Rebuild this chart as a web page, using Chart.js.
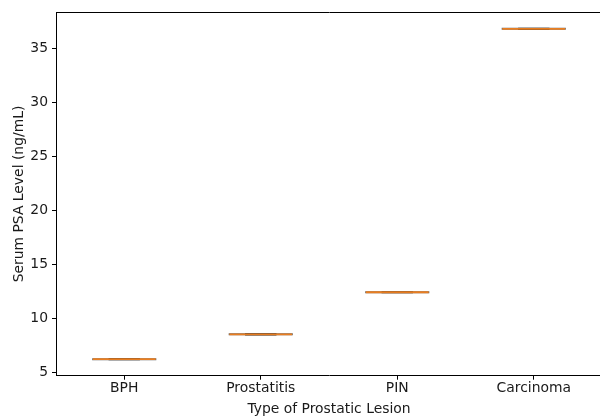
<!DOCTYPE html>
<html>
<head>
<meta charset="utf-8">
<script src="https://cdn.jsdelivr.net/npm/chart.js@4/dist/chart.umd.min.js"></script>
<style>
  html, body { margin: 0; padding: 0; background: #fff; overflow: hidden; }
  #wrap { width: 610px; height: 416px; }
</style>
</head>
<body>
<div id="wrap"><canvas id="c" width="610" height="416"></canvas></div>
<script>
// ---- data ----
const categories = ["BPH", "Prostatitis", "PIN", "Carcinoma"];
const psaValues = [6.2, 8.5, 12.4, 36.8];
const yTicks = [5, 10, 15, 20, 25, 30, 35];
const xAxisTitle = "Type of Prostatic Lesion";
const yAxisTitle = "Serum PSA Level (ng/mL)";

// ---- build box-plot style segments from the data ----
const boxHalf = 0.23;
const capHalf = 0.115;
function segments(half) {
  const pts = [];
  psaValues.forEach((v, i) => {
    const pos = i + 1;
    pts.push({ x: pos - half, y: v });
    pts.push({ x: pos + half, y: v });
    pts.push({ x: pos, y: null });
  });
  return pts;
}

const FONT = "'DejaVu Sans', sans-serif";
const TXT = '#1a1a1a';

new Chart(document.getElementById('c'), {
  type: 'scatter',
  data: {
    datasets: [
      { label: 'median', data: segments(boxHalf), showLine: true, spanGaps: false,
        borderColor: 'rgba(240,128,30,0.95)', borderWidth: 1.8, pointRadius: 0, order: 0 },
      { label: 'caps', data: segments(capHalf), showLine: true, spanGaps: false,
        borderColor: '#333', borderWidth: 2.2, pointRadius: 0, order: 1 },
      { label: 'box', data: segments(boxHalf + 0.005), showLine: true, spanGaps: false,
        borderColor: '#666', borderWidth: 2, pointRadius: 0, order: 2 }
    ]
  },
  options: {
    responsive: false,
    animation: false,
    events: [],
    layout: { padding: { left: 0, right: 8, top: 12, bottom: 0 } },
    plugins: { legend: { display: false }, tooltip: { enabled: false } },
    scales: {
      x: {
        type: 'linear',
        position: 'bottom',
        min: 0.5,
        max: 4.5,
        afterBuildTicks: (s) => { s.ticks = categories.map((c, i) => ({ value: i + 1 })); },
        afterFit: (s) => { s.height = 40.3; },
        ticks: {
          callback: (v) => categories[Math.round(v) - 1] || '',
          color: TXT, font: { family: FONT, size: 13.9 }, padding: 0, maxRotation: 0, autoSkip: false
        },
        grid: { display: true, drawOnChartArea: false, tickLength: 4, color: '#000', tickWidth: 1 },
        border: { display: true, color: '#000', width: 1 },
        title: { display: true, text: xAxisTitle, color: TXT, font: { family: FONT, size: 13.9 }, padding: { top: 0, bottom: -2 } }
      },
      x2: {
        type: 'linear',
        position: 'top',
        min: 0.5,
        max: 4.5,
        afterFit: (s) => { s.height = 0; },
        ticks: { display: false },
        grid: { display: false, drawTicks: false },
        border: { display: true, color: '#000', width: 1 }
      },
      y: {
        type: 'linear',
        min: 4.67,
        max: 38.33,
        afterBuildTicks: (s) => { s.ticks = yTicks.map(v => ({ value: v })); },
        afterFit: (s) => { s.width = 56; },
        ticks: { color: TXT, font: { family: FONT, size: 13.9 }, padding: 4 },
        grid: { display: true, drawOnChartArea: false, tickLength: 4, color: '#000', tickWidth: 1 },
        border: { display: true, color: '#000', width: 1 },
        title: { display: true, text: yAxisTitle, color: TXT, font: { family: FONT, size: 13.9 }, padding: { top: 11, bottom: 0 } }
      }
    }
  }
});
</script>
</body>
</html>
